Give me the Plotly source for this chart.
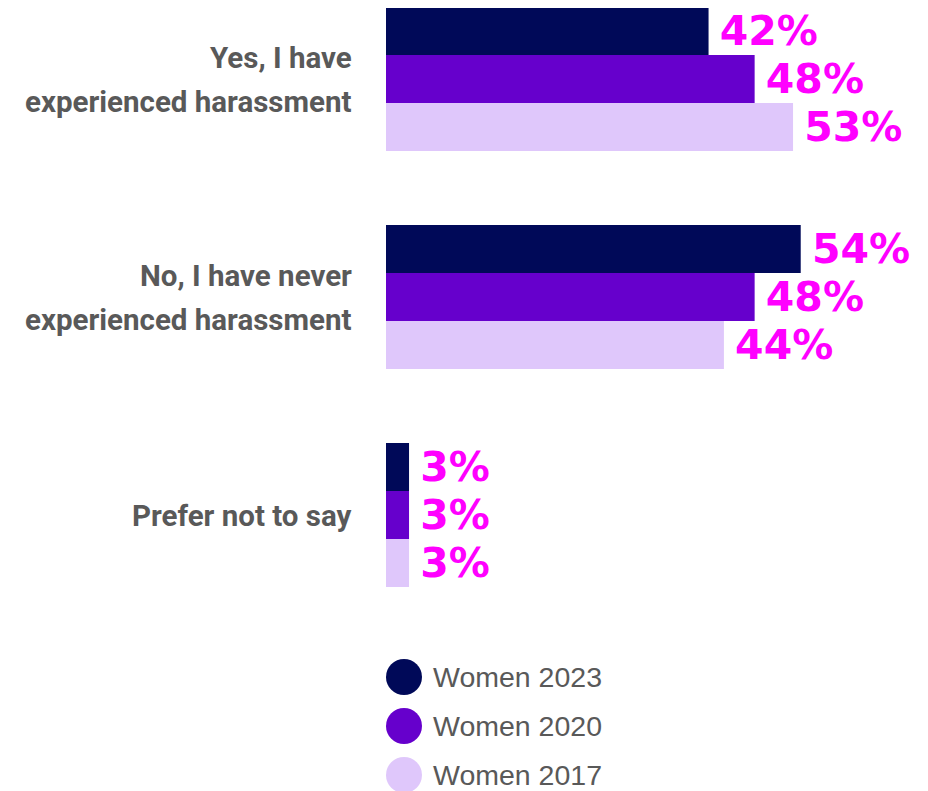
import plotly.graph_objects as go

categories = ["Yes, I have<br>experienced harassment",
              "No, I have never<br>experienced harassment",
              "Prefer not to say"]
series_names = ["Women 2023", "Women 2020", "Women 2017"]
women_2023 = [42, 54, 3]
women_2020 = [48, 48, 3]
women_2017 = [53, 44, 3]
colors = ["#000958", "#6600cc", "#dfc7fb"]

values = [women_2023, women_2020, women_2017]

# page has an 8px body margin, so figure coords = page coords - 8
W, H = 920, 783
left, top = 378, 0
plot_h = 612
plot_w = W - left
px_per_pct = 7.68
band = 218.0
first_center = 71.0

fig = go.Figure()
for name, vals, col in zip(series_names, values, colors):
    fig.add_trace(go.Bar(
        y=categories, x=vals, orientation="h", name=name,
        marker=dict(color=col, line=dict(width=0)),
        text=[f"\u2009{v}%" for v in vals],
        textposition="outside", constraintext="none", cliponaxis=False,
        textfont=dict(family="DejaVu Sans", size=41, color="#ff00ff", weight="bold"),
        showlegend=False,
        hoverinfo="skip",
    ))

annotations = []
label_font = dict(family="Roboto, sans-serif", size=29.5, color="#595959", weight="bold")
label_x = (346 - left) / plot_w
for cat in categories:
    lines = cat.split("<br>")
    shifts = [21, -23] if len(lines) == 2 else [-1]
    for line, ys in zip(lines, shifts):
        annotations.append(dict(text=line, xref="paper", yref="y", x=label_x, y=cat,
                                yshift=ys, xanchor="right", yanchor="middle",
                                showarrow=False, font=label_font))

# legend drawn as circles + text
shapes = []
leg_x = 396
leg_y0 = 669
leg_dy = 49
for i, (name, col) in enumerate(zip(series_names, colors)):
    cy = leg_y0 + i * leg_dy
    xp = (leg_x - left) / plot_w
    yp = (plot_h - cy) / plot_h
    shapes.append(dict(type="circle", xref="paper", yref="paper",
                       xsizemode="pixel", ysizemode="pixel",
                       xanchor=xp, yanchor=yp, x0=-18, x1=18, y0=-18, y1=18,
                       fillcolor=col, line=dict(width=0)))
    annotations.append(dict(text=name, xref="paper", yref="paper",
                            x=(423 - left) / plot_w, y=yp,
                            xanchor="left", yanchor="middle", showarrow=False,
                            font=dict(family="Liberation Sans, Arial, sans-serif",
                                      size=28.5, color="#595959")))

fig.update_layout(
    width=W, height=H,
    margin=dict(l=left, r=0, t=top, b=H - plot_h, pad=0, autoexpand=False),
    barmode="group", bargap=74 / band, bargroupgap=0,
    plot_bgcolor="white", paper_bgcolor="white",
    xaxis=dict(range=[0, plot_w / px_per_pct], visible=False, fixedrange=True),
    yaxis=dict(
        range=[(plot_h - first_center) / band, -first_center / band],
        showgrid=False, zeroline=False, showline=False, ticks="",
        showticklabels=False, automargin=False, fixedrange=True,
    ),
    shapes=shapes, annotations=annotations,
    showlegend=False,
)

fig.write_html("out.html")
